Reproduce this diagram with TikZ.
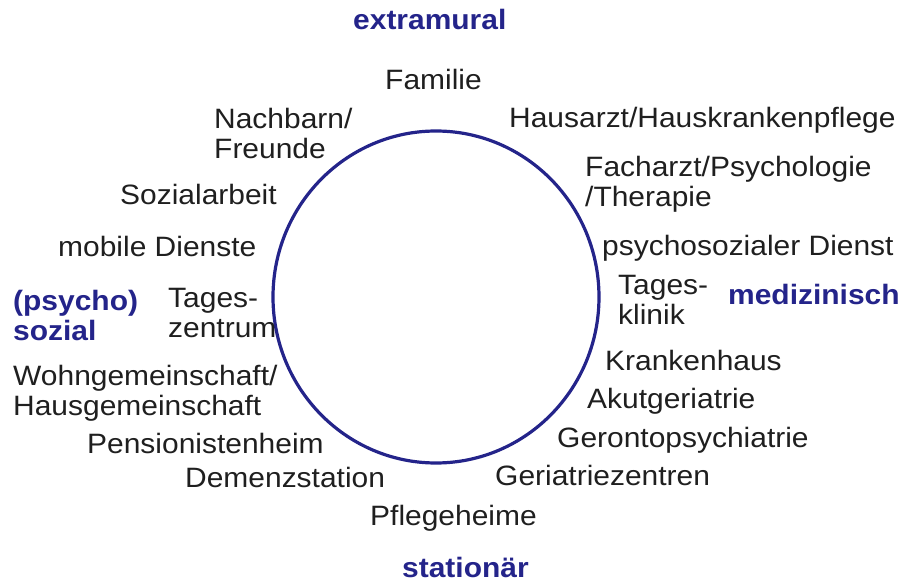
\documentclass[tikz,border=0pt]{standalone}
\usepackage{fontspec}
\setmainfont{Liberation Sans}[FakeStretch=1.07]
\definecolor{ringblue}{RGB}{36,36,138}

\begin{document}
\begin{tikzpicture}
[x=1pt,y=-1pt,
 itemText/.style={anchor=base west,inner sep=0pt,align=left,text=black!88},%
 areaText/.style={anchor=base west,inner sep=0pt,align=left,font=\bfseries,text=ringblue},%
 ringLine/.style={draw=ringblue,line width=3.2pt}]
\fontsize{28}{30}\selectfont
\useasboundingbox (0,0) rectangle (906,583);
%% ring
\draw[ringLine] (436,297) ellipse [x radius=163,y radius=166];
%% areas around the ring (y is the baseline of the last line)
\foreach \nodename/\x/\y/\txt in {extramural/353/30/{extramural}, medizinisch/728/305/{medizinisch},
  psychosozial/13/340/{(psycho)\\sozial}, stationaer/402/577/{stationär}}
{
  \node (\nodename) at (\x,\y) [areaText] {\txt};
}
%% services
\foreach \nodename/\x/\y/\txt in {familie/385/90/{Familie}, nachbarn/214/159/{Nachbarn/\\Freunde},
  hausarzt/509/128/{Hausarzt/Hauskrankenpflege}, facharzt/585/207/{Facharzt/Psychologie\\/Therapie},
  sozialarbeit/120/205/{Sozialarbeit}, mobil/58/257/{mobile Dienste},
  psychodienst/602/255/{psychosozialer Dienst}, tagesklinik/618/324/{Tages-\\klinik},
  tageszentrum/168/337/{Tages-\\zentrum}, krankenhaus/605/370/{Krankenhaus},
  wohngem/13/415/{Wohngemeinschaft/\\Hausgemeinschaft}, akut/587/408/{Akutgeriatrie},
  pension/87/453/{Pensionistenheim}, geronto/557/447/{Gerontopsychiatrie},
  demenz/185/487/{Demenzstation}, geriatrie/495/485/{Geriatriezentren},
  pflege/370/525/{Pflegeheime}}
{
  \node (\nodename) at (\x,\y) [itemText] {\txt};
}
\end{tikzpicture}
\end{document}
